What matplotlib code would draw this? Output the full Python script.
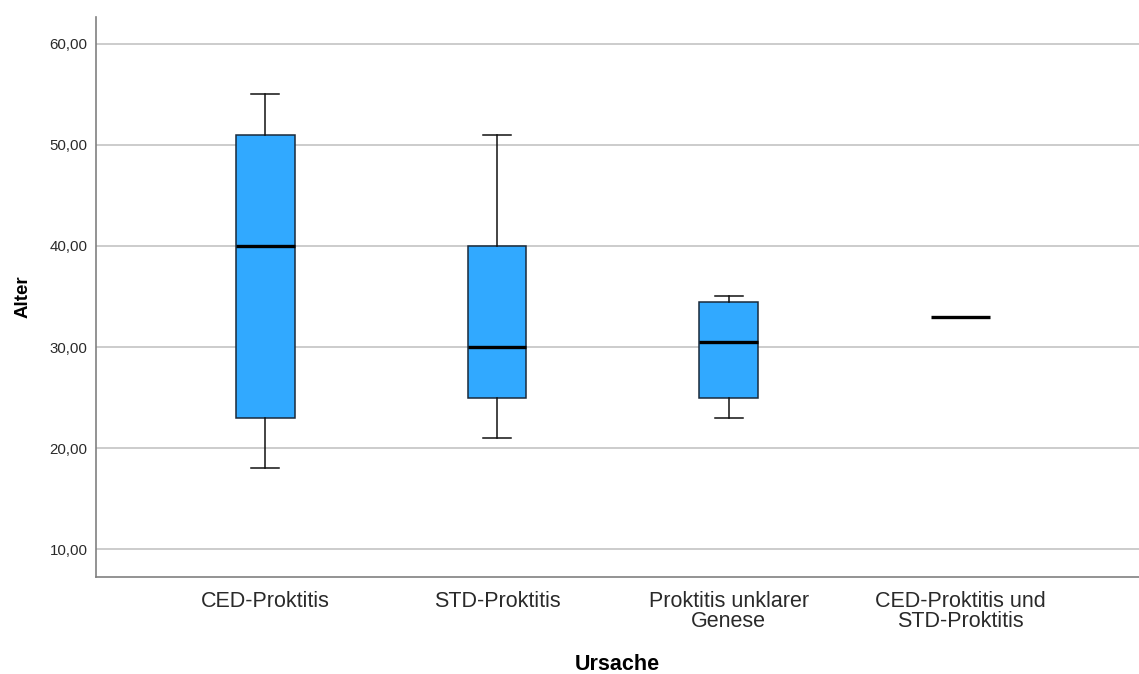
import matplotlib
matplotlib.use("Agg")
import matplotlib.pyplot as plt

plt.rcParams["font.family"] = ["Liberation Sans", "DejaVu Sans"]

# Boxplot-Kennwerte je Ursache
categories = ["CED-Proktitis", "STD-Proktitis", "Proktitis unklarer\nGenese",
              "CED-Proktitis und\nSTD-Proktitis"]
whisker_low = [18, 21, 23, 33]
q1 = [23, 25, 25, 33]
median = [40, 30, 30.5, 33]
q3 = [51, 40, 34.5, 33]
whisker_high = [55, 51, 35, 33]
yticks = [10, 20, 30, 40, 50, 60]

stats = []
for i, name in enumerate(categories):
    stats.append({
        "label": name,
        "whislo": whisker_low[i],
        "q1": q1[i],
        "med": median[i],
        "q3": q3[i],
        "whishi": whisker_high[i],
        "fliers": [],
    })

fig = plt.figure(figsize=(11.39, 6.74), dpi=100)
ax = fig.add_axes([0.0843, 0.1439, 0.9157, 0.8309])

ax.set_axisbelow(True)
ax.yaxis.grid(True, color="#cccccc", linewidth=1.4)

# single-value group: draw only the median line
box_stats = [s for i, s in enumerate(stats) if q1[i] != q3[i]]
box_pos = [i for i in range(len(stats)) if q1[i] != q3[i]]
ax.bxp(
    box_stats,
    positions=box_pos,
    widths=0.254,
    capwidths=0.12,
    patch_artist=True,
    showfliers=False,
    boxprops={"facecolor": "#31a9ff", "edgecolor": "#1a2a3a", "linewidth": 1.1},
    medianprops={"color": "#000000", "linewidth": 2.4},
    whiskerprops={"color": "#111111", "linewidth": 1.1},
    capprops={"color": "#111111", "linewidth": 1.1},
)
for i in range(len(stats)):
    if q1[i] == q3[i]:
        ax.plot([i - 0.127, i + 0.127], [median[i], median[i]],
                color="#000000", linewidth=2.4, solid_capstyle="butt")

ax.set_xlim(-0.73, 3.77)
ax.set_ylim(7.23, 62.67)
ax.set_xticks(range(len(categories)))
ax.set_xticklabels(categories, fontsize=15.5, color="#2a2a2a", linespacing=0.95)
ax.set_yticks(yticks)
ax.set_yticklabels([f"{v:.2f}".replace(".", ",") for v in yticks],
                   fontsize=10.8, color="#2a2a2a")
ax.tick_params(axis="both", length=0)
ax.tick_params(axis="x", pad=10)
ax.tick_params(axis="y", pad=6)

for side in ["top", "right"]:
    ax.spines[side].set_visible(False)
for side in ["left", "bottom"]:
    ax.spines[side].set_color("#808080")
    ax.spines[side].set_linewidth(1.2)

ax.set_ylabel("Alter", fontsize=13.5, fontweight="bold", labelpad=13)
ax.set_xlabel("Ursache", fontsize=15.5, fontweight="bold", labelpad=16)

fig.savefig("out.png", dpi=100)
